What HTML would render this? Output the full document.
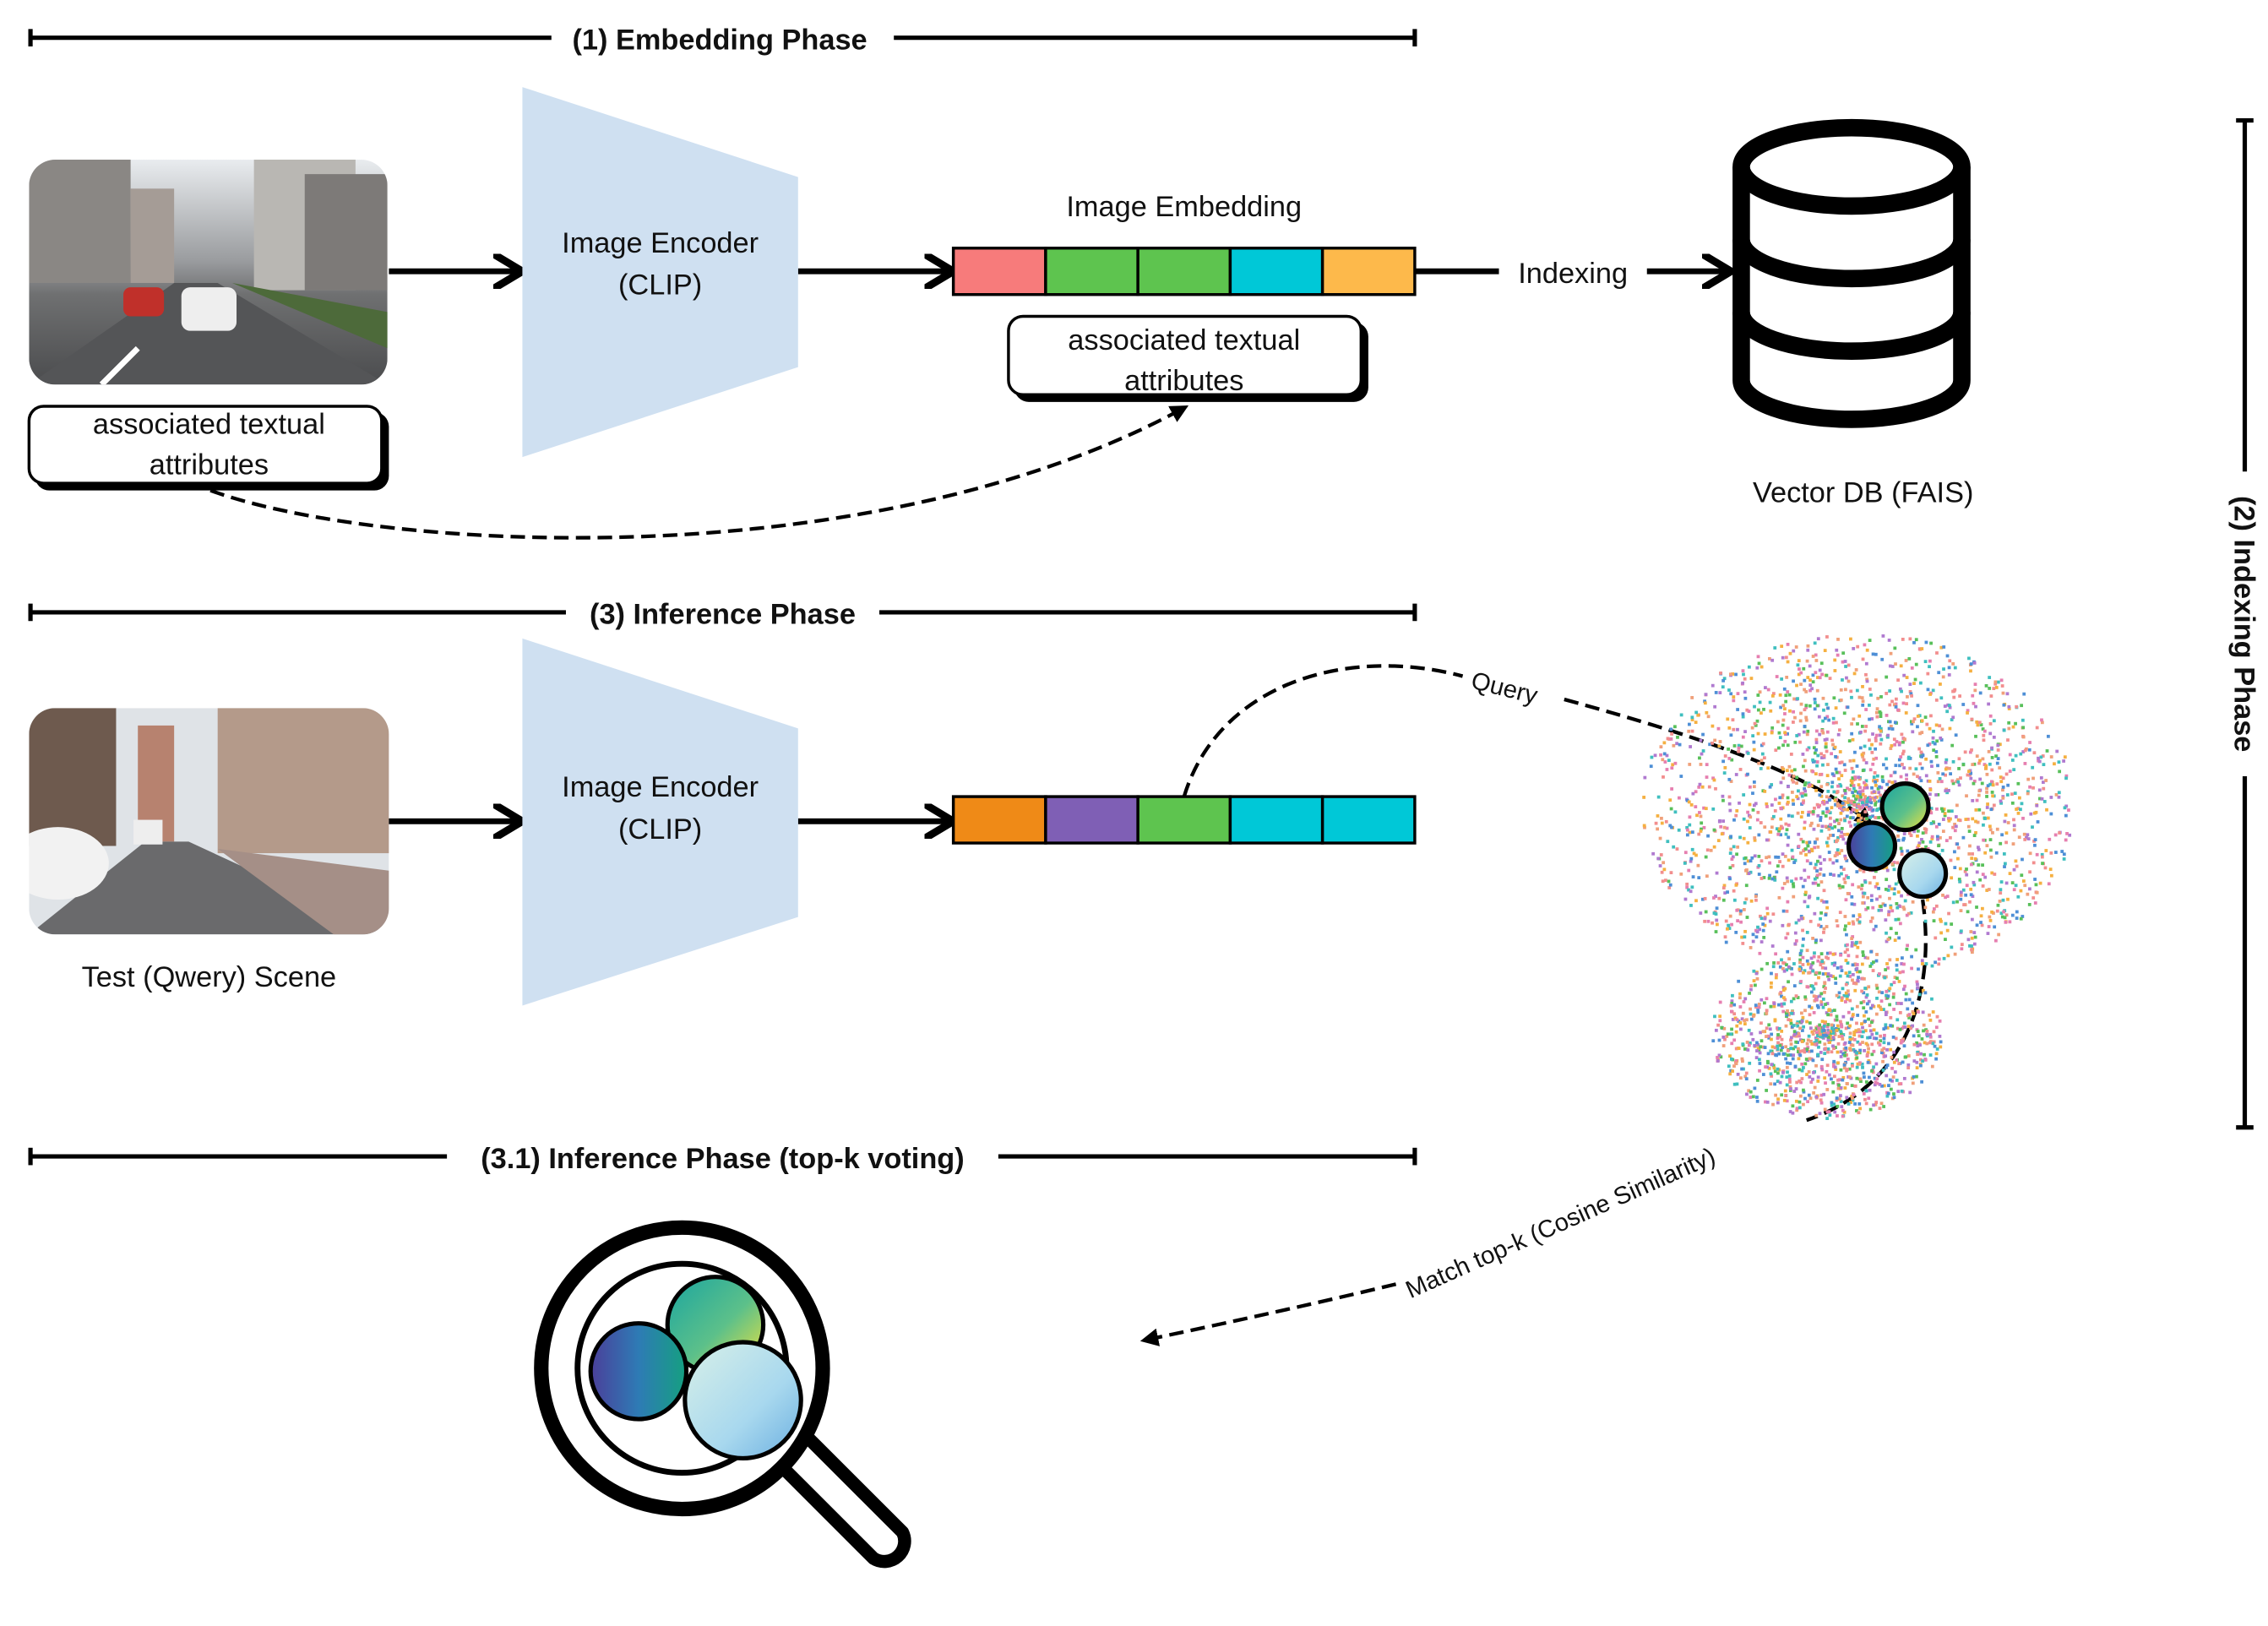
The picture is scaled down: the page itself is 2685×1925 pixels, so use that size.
<!DOCTYPE html>
<html><head><meta charset="utf-8"><style>
html,body{margin:0;padding:0;background:#fff;}
svg{display:block;}
text{font-family:"Liberation Sans",sans-serif;fill:#111;}
.b{font-weight:bold;}
</style></head><body>
<svg id="s" width="2685" height="1925" viewBox="0 0 1563 1120.6" xmlns="http://www.w3.org/2000/svg">
<defs>
<marker id="ah" markerWidth="6" markerHeight="6" refX="4" refY="3" orient="auto" markerUnits="strokeWidth"><path d="M0,0 L5,3 L0,6" fill="none" stroke="#000" stroke-width="1.3"/></marker>
<marker id="ad" markerWidth="6" markerHeight="6" refX="4.5" refY="3" orient="auto" markerUnits="strokeWidth"><path d="M0,0.5 L5,3 L0,5.5 Z" fill="#000"/></marker>
<linearGradient id="sky" x1="0" y1="0" x2="0" y2="1"><stop offset="0" stop-color="#e9ecef"/><stop offset="0.45" stop-color="#9a9c9f"/><stop offset="0.6" stop-color="#6f7071"/><stop offset="1" stop-color="#4b4c4e"/></linearGradient>
<linearGradient id="g1" x1="0" y1="0" x2="1" y2="1"><stop offset="0" stop-color="#1aa5a0"/><stop offset="0.55" stop-color="#5cc08a"/><stop offset="1" stop-color="#f3e33a"/></linearGradient>
<linearGradient id="g2" x1="0" y1="0" x2="1" y2="0"><stop offset="0" stop-color="#4b3f9a"/><stop offset="0.5" stop-color="#2e7bb5"/><stop offset="1" stop-color="#15a080"/></linearGradient>
<linearGradient id="g3" x1="0" y1="0" x2="1" y2="1"><stop offset="0" stop-color="#d8f0e8"/><stop offset="0.6" stop-color="#a8d8ee"/><stop offset="1" stop-color="#6aaee0"/></linearGradient>
<clipPath id="c1"><rect x="20" y="110" width="247" height="155" rx="18"/></clipPath>
<clipPath id="c2"><rect x="20" y="488" width="248" height="156" rx="18"/></clipPath>
</defs>

<g stroke="#000" stroke-width="3">
<line x1="21" y1="26" x2="380" y2="26"/><line x1="616" y1="26" x2="975" y2="26"/>
<line x1="21" y1="20" x2="21" y2="32"/><line x1="975" y1="20" x2="975" y2="32"/>
<line x1="21" y1="422" x2="390" y2="422"/><line x1="606" y1="422" x2="975" y2="422"/>
<line x1="21" y1="416" x2="21" y2="428"/><line x1="975" y1="416" x2="975" y2="428"/>
<line x1="21" y1="797" x2="308" y2="797"/><line x1="688" y1="797" x2="975" y2="797"/>
<line x1="21" y1="791" x2="21" y2="803"/><line x1="975" y1="791" x2="975" y2="803"/>
<line x1="1547" y1="83" x2="1547" y2="325"/><line x1="1547" y1="535" x2="1547" y2="777"/>
<line x1="1541" y1="83" x2="1553" y2="83"/><line x1="1541" y1="777" x2="1553" y2="777"/>
</g>
<text x="496" y="34" font-size="20" class="b" text-anchor="middle">(1) Embedding Phase</text>
<text x="498" y="430" font-size="20" class="b" text-anchor="middle">(3) Inference Phase</text>
<text x="498" y="805" font-size="20" class="b" text-anchor="middle">(3.1) Inference Phase (top-k voting)</text>
<text transform="translate(1540,430) rotate(90)" font-size="20" class="b" text-anchor="middle">(2) Indexing Phase</text>

<g clip-path="url(#c1)">
<rect x="20" y="110" width="247" height="155" fill="url(#sky)"/>
<rect x="20" y="110" width="70" height="85" fill="#8a8784"/>
<rect x="90" y="130" width="30" height="65" fill="#a59c96"/>
<rect x="175" y="110" width="70" height="90" fill="#b9b7b3"/>
<rect x="210" y="120" width="57" height="80" fill="#7d7a78"/>
<polygon points="20,265 120,195 150,195 267,265" fill="#545557"/>
<polygon points="160,195 267,215 267,240" fill="#4d6a3a"/>
<rect x="125" y="198" width="38" height="30" rx="6" fill="#eeeeee"/>
<rect x="85" y="198" width="28" height="20" rx="5" fill="#c0302a"/>
<line x1="95" y1="240" x2="70" y2="265" stroke="#fff" stroke-width="4"/>
</g>
<g clip-path="url(#c2)">
<rect x="20" y="488" width="248" height="156" fill="#dfe3e7"/>
<rect x="20" y="488" width="60" height="95" fill="#6e5a4e"/>
<rect x="150" y="488" width="118" height="100" fill="#b49a8a"/>
<rect x="95" y="500" width="25" height="80" fill="#b7826f"/>
<polygon points="20,644 100,580 130,580 268,644" fill="#6a6a6c"/>
<polygon points="150,585 268,600 268,644 230,644" fill="#a58f87"/>
<ellipse cx="40" cy="595" rx="35" ry="25" fill="#f2f2f2"/>
<rect x="92" y="565" width="20" height="17" fill="#eee"/>
</g>

<g stroke="#000" stroke-width="4" fill="none" marker-end="url(#ah)">
<line x1="268" y1="187" x2="356" y2="187"/>
<line x1="550" y1="187" x2="653" y2="187"/>
<line x1="268" y1="566" x2="356" y2="566"/>
<line x1="550" y1="566" x2="653" y2="566"/>
<line x1="1135" y1="187" x2="1189" y2="187"/>
</g>
<line x1="975" y1="187" x2="1033" y2="187" stroke="#000" stroke-width="4"/>
<text x="1084" y="195" font-size="20" text-anchor="middle">Indexing</text>

<polygon points="360,60 550,122 550,253 360,315" fill="#cfe0f1"/>
<polygon points="360,440 550,502 550,632 360,693" fill="#cfe0f1"/>
<g font-size="20" text-anchor="middle">
<text x="455" y="174">Image Encoder</text><text x="455" y="203">(CLIP)</text>
<text x="455" y="549">Image Encoder</text><text x="455" y="578">(CLIP)</text>
<text x="816" y="149">Image Embedding</text>
<text x="1284" y="346">Vector DB (FAIS)</text>
<text x="144" y="680">Test (Qwery) Scene</text>
</g>

<g stroke="#000" stroke-width="2">
<rect x="657" y="171" width="63.6" height="32" fill="#f77b7b"/>
<rect x="720.6" y="171" width="63.6" height="32" fill="#5ec44f"/>
<rect x="784.2" y="171" width="63.6" height="32" fill="#5ec44f"/>
<rect x="847.8" y="171" width="63.6" height="32" fill="#00c8d7"/>
<rect x="911.4" y="171" width="63.6" height="32" fill="#fdb94b"/>
<rect x="657" y="549" width="63.6" height="32" fill="#ef8a17"/>
<rect x="720.6" y="549" width="63.6" height="32" fill="#7f5fb5"/>
<rect x="784.2" y="549" width="63.6" height="32" fill="#5ec44f"/>
<rect x="847.8" y="549" width="63.6" height="32" fill="#00c8d7"/>
<rect x="911.4" y="549" width="63.6" height="32" fill="#00c8d7"/>
</g>

<rect x="24" y="284" width="244" height="54" rx="10" fill="#000"/>
<rect x="20" y="280" width="243" height="53" rx="10" fill="#fff" stroke="#000" stroke-width="2"/>
<text x="144" y="299" font-size="20" text-anchor="middle">associated textual</text>
<text x="144" y="327" font-size="20" text-anchor="middle">attributes</text>
<rect x="699" y="222" width="244" height="55" rx="10" fill="#000"/>
<rect x="695" y="218" width="243" height="54" rx="10" fill="#fff" stroke="#000" stroke-width="2"/>
<text x="816" y="241" font-size="20" text-anchor="middle">associated textual</text>
<text x="816" y="269" font-size="20" text-anchor="middle">attributes</text>

<g stroke="#000" stroke-width="12" fill="none">
<ellipse cx="1276" cy="115" rx="76" ry="27"/>
<path d="M1200,115 V262 A76,27 0 0 0 1352,262 V115"/>
<path d="M1200,165 A76,27 0 0 0 1352,165"/>
<path d="M1200,215 A76,27 0 0 0 1352,215"/>
</g>

<g stroke="#000" stroke-width="2.5" fill="none" stroke-dasharray="10,5">
<path d="M145,338 C260,380 600,400 818,280" marker-end="url(#ad)"/>
<path d="M816,549 C840,470 930,445 1008,466"/>
<path d="M1078,482 C1180,510 1250,535 1290,568" marker-end="url(#ad)"/>
<path d="M1325,620 C1335,690 1310,750 1245,772"/>
<path d="M962,885 C900,900 830,915 787,924" marker-end="url(#ad)"/>
</g>
<text transform="translate(1013,474) rotate(14)" font-size="17">Query</text>
<text transform="translate(972,895) rotate(-24)" font-size="17">Match top-k (Cosine Similarity)</text>

<g id="dots"></g>
<circle cx="1313" cy="556" r="16" fill="url(#g1)" stroke="#000" stroke-width="3"/>
<circle cx="1290" cy="583" r="16" fill="url(#g2)" stroke="#000" stroke-width="3"/>
<circle cx="1325" cy="602" r="16" fill="url(#g3)" stroke="#000" stroke-width="3"/>

<path d="M528,1000 L602,1074 A14,14 0 0 0 622,1056 L548,982" fill="#fff" stroke="#000" stroke-width="9" stroke-linejoin="round"/>
<circle cx="470" cy="943" r="97" fill="#fff" stroke="#000" stroke-width="10"/>
<circle cx="470" cy="943" r="72" fill="#fff" stroke="#000" stroke-width="4"/>
<circle cx="493" cy="913" r="33" fill="url(#g1)" stroke="#000" stroke-width="3"/>
<circle cx="440" cy="945" r="33" fill="url(#g2)" stroke="#000" stroke-width="3"/>
<circle cx="512" cy="965" r="40" fill="url(#g3)" stroke="#000" stroke-width="3"/>
</svg>
<script>
(function(){
var s=12345;function r(){s=(s*1103515245+12345)%2147483648;return s/2147483648;}
var cols=["#f28e8e","#4e8fd6","#f5b041","#58c05a","#e67fb0","#3fbfbf","#b07ad0","#f0a07a"];
var g=document.getElementById("dots"),h="";
function cl(cx,cy,rx,ry,n){for(var i=0;i<n;i++){var a=r()*6.283,d=Math.pow(r(),0.75);var x=cx+Math.cos(a)*rx*d,y=cy+Math.sin(a)*ry*d;
h+='<rect x="'+x.toFixed(1)+'" y="'+y.toFixed(1)+'" width="2.2" height="2.2" fill="'+cols[Math.floor(r()*cols.length)]+'"/>';}}
cl(1280,555,150,120,2300);cl(1258,712,80,58,1100);
g.innerHTML=h;})();
</script>
</body></html>
